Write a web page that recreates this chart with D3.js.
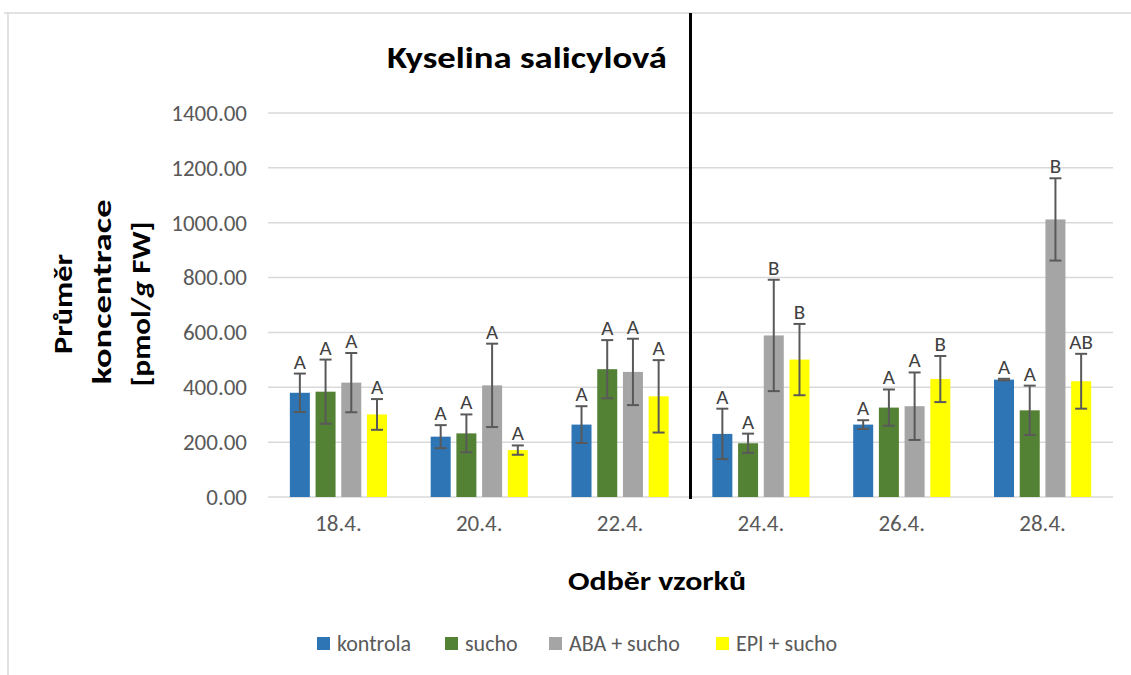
<!DOCTYPE html>
<html lang="cs">
<head>
<meta charset="utf-8">
<title>Kyselina salicylová</title>
<script src="https://d3js.org/d3.v7.min.js"></script>
<style>
  body { margin: 0; background: #fff; }
  text { font-family: Carlito, Calibri, "Open Sans", sans-serif; }
</style>
</head>
<body>
<div id="chart"></div>
<script>
// data
var dates = ["18.4.", "20.4.", "22.4.", "24.4.", "26.4.", "28.4."];
var series = ["kontrola", "sucho", "ABA + sucho", "EPI + sucho"];
var colors = ["#2E75B6", "#548235", "#A5A5A5", "#FFFF00"];

var kontrola = [380, 220, 264, 230, 264, 428];
var sucho    = [384, 232, 466, 196, 326, 316];
var aba      = [417, 407, 456, 589, 331, 1012];
var epi      = [301, 171, 367, 501, 430, 422];

var errKontrola = [70, 42, 67, 92, 16, 3];
var errSucho    = [117, 69, 106, 35, 66, 90];
var errAba      = [108, 152, 121, 203, 123, 150];
var errEpi      = [56, 17, 132, 130, 84, 100];

var lblKontrola = ["A", "A", "A", "A", "A", "A"];
var lblSucho    = ["A", "A", "A", "A", "A", "A"];
var lblAba      = ["A", "A", "A", "B", "A", "B"];
var lblEpi      = ["A", "A", "A", "B", "B", "AB"];

var yTicks = [0, 200, 400, 600, 800, 1000, 1200, 1400];

var values = [kontrola, sucho, aba, epi];
var errors = [errKontrola, errSucho, errAba, errEpi];
var letters = [lblKontrola, lblSucho, lblAba, lblEpi];

var W = 1131, H = 675;
var plot = {left: 268, right: 1113, top: 113, bottom: 497};

var svg = d3.select("#chart").append("svg")
    .attr("width", W).attr("height", H);

// outer frame (only top and left edges visible)
svg.append("line").attr("x1", 4).attr("x2", W).attr("y1", 13).attr("y2", 13)
    .attr("stroke", "#D9D9D9").attr("stroke-width", 1.5);
svg.append("line").attr("x1", 8).attr("x2", 8).attr("y1", 13).attr("y2", H)
    .attr("stroke", "#D9D9D9").attr("stroke-width", 1.5);

var x0 = d3.scaleBand().domain(dates).range([plot.left, plot.right]).padding(0);
var x1 = d3.scaleBand().domain(series).range([0, x0.bandwidth()])
    .paddingInner(0.222).paddingOuter(0.85);
var y = d3.scaleLinear().domain([0, 1400]).range([plot.bottom, plot.top]);

// gridlines
svg.append("g").selectAll("line").data(yTicks).enter().append("line")
    .attr("x1", plot.left).attr("x2", plot.right)
    .attr("y1", function(d) { return y(d); })
    .attr("y2", function(d) { return y(d); })
    .attr("stroke", "#D9D9D9").attr("stroke-width", 1.5);

// y axis labels
var yAxis = d3.axisLeft(y).tickValues(yTicks).tickSize(0).tickPadding(21)
    .tickFormat(d3.format(".2f"));
var gy = svg.append("g").attr("transform", "translate(" + plot.left + ",0)").call(yAxis);
gy.select(".domain").remove();
gy.selectAll("text").attr("font-size", 23).attr("fill", "#595959")
    .style("font-family", "Carlito, Calibri, 'Open Sans', sans-serif");

// x axis labels
var xAxis = d3.axisBottom(x0).tickSize(0).tickPadding(18);
var gx = svg.append("g").attr("transform", "translate(0," + plot.bottom + ")").call(xAxis);
gx.select(".domain").remove();
gx.selectAll("text").attr("font-size", 23).attr("fill", "#595959")
    .style("font-family", "Carlito, Calibri, 'Open Sans', sans-serif");

// bars
var rows = [];
dates.forEach(function(dt, i) {
    series.forEach(function(s, j) {
        rows.push({date: dt, s: s, j: j, v: values[j][i], e: errors[j][i], l: letters[j][i]});
    });
});

svg.append("g").selectAll("rect").data(rows).enter().append("rect")
    .attr("x", function(d) { return x0(d.date) + x1(d.s); })
    .attr("width", x1.bandwidth())
    .attr("y", function(d) { return y(d.v); })
    .attr("height", function(d) { return y(0) - y(d.v); })
    .attr("fill", function(d) { return colors[d.j]; });

// error bars
var eb = svg.append("g").attr("stroke", "#595959").attr("stroke-width", 2);
rows.forEach(function(d) {
    var cx = x0(d.date) + x1(d.s) + x1.bandwidth() / 2;
    var t = y(d.v + d.e), b = y(d.v - d.e);
    eb.append("line").attr("x1", cx).attr("x2", cx).attr("y1", t).attr("y2", b);
    eb.append("line").attr("x1", cx - 6).attr("x2", cx + 6).attr("y1", t).attr("y2", t);
    eb.append("line").attr("x1", cx - 6).attr("x2", cx + 6).attr("y1", b).attr("y2", b);
});

// significance letters
svg.append("g").selectAll("text").data(rows).enter().append("text")
    .attr("x", function(d) { return x0(d.date) + x1(d.s) + x1.bandwidth() / 2; })
    .attr("y", function(d) { return y(d.v + d.e) - 5; })
    .attr("text-anchor", "middle")
    .attr("font-size", 21).attr("fill", "#404040")
    .text(function(d) { return d.l; });

// black separator line between 22.4. and 24.4.
svg.append("line")
    .attr("x1", x0("24.4.")).attr("x2", x0("24.4."))
    .attr("y1", 13).attr("y2", plot.bottom + 2)
    .attr("stroke", "#000").attr("stroke-width", 3);

// title
svg.append("text").attr("x", 527).attr("y", 68).attr("text-anchor", "middle")
    .attr("font-size", 30).attr("font-weight", "bold").attr("fill", "#000")
    .attr("textLength", 280).attr("lengthAdjust", "spacingAndGlyphs")
    .text("Kyselina salicylová");

// y axis title (three lines, rotated)
var yt = svg.append("g").attr("transform", "translate(0,304) rotate(-90)");
yt.append("text").attr("x", 0).attr("y", 72).attr("text-anchor", "middle")
    .attr("font-size", 26).attr("font-weight", "bold")
    .attr("textLength", 100).attr("lengthAdjust", "spacingAndGlyphs")
    .text("Průměr");
yt.append("text").attr("x", 12).attr("y", 111).attr("text-anchor", "middle")
    .attr("font-size", 26).attr("font-weight", "bold")
    .attr("textLength", 185).attr("lengthAdjust", "spacingAndGlyphs")
    .text("koncentrace");
var t3 = yt.append("text").attr("x", 0).attr("y", 150).attr("text-anchor", "middle")
    .attr("font-size", 26).attr("font-weight", "bold")
    .attr("textLength", 165).attr("lengthAdjust", "spacingAndGlyphs");
t3.append("tspan").text("[pmol/");
t3.append("tspan").attr("font-style", "italic").text("g");
t3.append("tspan").text(" FW]");

// x axis title
svg.append("text").attr("x", 657).attr("y", 590).attr("text-anchor", "middle")
    .attr("font-size", 27).attr("font-weight", "bold")
    .attr("textLength", 178).attr("lengthAdjust", "spacingAndGlyphs")
    .text("Odběr vzorků");

// legend
var legX = [317, 445, 549, 716];
var leg = svg.append("g");
series.forEach(function(s, j) {
    leg.append("rect").attr("x", legX[j]).attr("y", 637).attr("width", 13).attr("height", 13)
        .attr("fill", colors[j]);
    leg.append("text").attr("x", legX[j] + 20).attr("y", 651)
        .attr("font-size", 22).attr("fill", "#595959").text(s);
});
</script>
</body>
</html>
